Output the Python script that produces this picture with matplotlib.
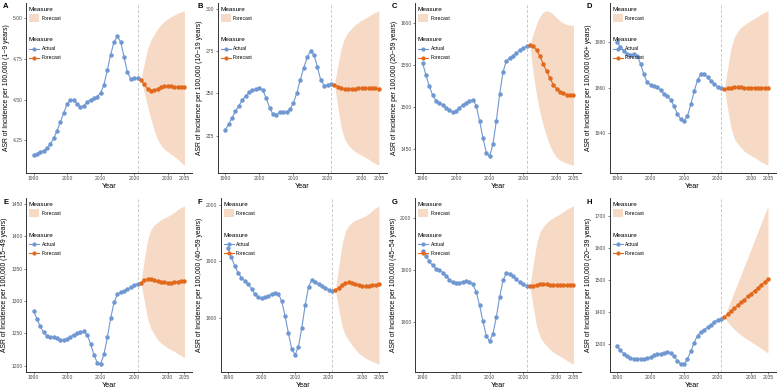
import matplotlib
matplotlib.use("Agg")
import matplotlib.pyplot as plt
from matplotlib.patches import Patch
from matplotlib.lines import Line2D

plt.rcParams['font.family'] = ['Liberation Sans', 'DejaVu Sans']

years_actual = list(range(1990, 2022))
years_fc = list(range(2022, 2036))

# ---- A: 1~9 years
a_actual = [4.157, 4.167, 4.177, 4.187, 4.204, 4.228, 4.262, 4.309, 4.363, 4.419,
            4.470, 4.500, 4.496, 4.474, 4.456, 4.462, 4.486, 4.500, 4.508, 4.518,
            4.540, 4.591, 4.681, 4.776, 4.853, 4.889, 4.853, 4.760, 4.667, 4.625,
            4.631, 4.633]
a_fc = [4.619, 4.595, 4.565, 4.555, 4.557, 4.567, 4.577, 4.581, 4.583, 4.581,
        4.579, 4.577, 4.575, 4.575]
a_hi = [4.619, 4.72, 4.81, 4.865, 4.90, 4.935, 4.96, 4.98, 4.995, 5.008,
        5.02, 5.03, 5.038, 5.045]
a_lo = [4.619, 4.545, 4.46, 4.38, 4.31, 4.255, 4.22, 4.195, 4.18, 4.165,
        4.15, 4.135, 4.115, 4.097]

# ---- B: 10~19 years
b_actual = [228.5, 231.7, 235.6, 239.4, 242.7, 246.1, 248.6, 250.6, 251.8, 252.5,
            253.3, 252.2, 247.2, 241.7, 237.6, 237.4, 239.0, 239.2, 239.2, 240.7,
            244.5, 250.4, 258.1, 265.1, 271.4, 275.0, 273.0, 265.7, 257.9, 254.7,
            255.3, 255.5]
b_fc = [255.1, 254.1, 253.1, 252.7, 252.7, 252.7, 252.9, 253.0, 253.1, 253.1,
        253.1, 253.0, 253.0, 252.9]
b_hi = [255.1, 266.5, 277.0, 283.0, 286.3, 288.6, 290.6, 292.0, 293.4, 294.5,
        295.6, 297.0, 298.0, 299.0]
b_lo = [255.1, 241.8, 229.5, 222.7, 219.7, 217.3, 215.7, 214.4, 213.4, 212.2,
        211.1, 209.6, 208.5, 207.5]

# ---- C: 20~59 years
c_actual = [1552.7, 1538.0, 1525.2, 1514.3, 1507.8, 1504.6, 1503.1, 1499.2, 1496.1, 1493.8,
            1495.3, 1499.2, 1502.7, 1505.4, 1507.4, 1508.5, 1501.9, 1483.7, 1463.6, 1446.1,
            1441.5, 1456.2, 1483.7, 1515.5, 1541.9, 1555.0, 1558.9, 1561.2, 1564.3, 1567.8,
            1570.2, 1572.1]
c_fc = [1573.3, 1572.5, 1567.8, 1560.5, 1551.2, 1542.6, 1534.1, 1526.7, 1521.7, 1518.2,
        1516.3, 1514.7, 1514.0, 1514.0]
c_hi = [1573.3, 1587.0, 1599.0, 1608.0, 1613.0, 1614.5, 1613.0, 1610.0, 1606.0, 1602.5,
        1600.0, 1598.0, 1597.3, 1597.0]
c_lo = [1573.3, 1540.0, 1514.0, 1494.0, 1478.0, 1465.0, 1454.0, 1446.0, 1440.0, 1437.0,
        1435.0, 1433.3, 1432.0, 1431.0]

# ---- D: 60+ years
d_actual = [1880.0, 1877.8, 1876.1, 1874.8, 1874.5, 1874.8, 1874.0, 1870.5, 1865.9, 1862.3,
            1861.2, 1860.9, 1860.3, 1859.0, 1857.3, 1856.3, 1854.7, 1851.8, 1848.5, 1846.2,
            1845.2, 1847.6, 1852.7, 1858.4, 1863.3, 1865.9, 1865.8, 1864.6, 1863.0, 1861.6,
            1860.4, 1859.7]
d_fc = [1859.4, 1859.7, 1860.0, 1860.1, 1860.1, 1860.1, 1860.0, 1860.0, 1860.0, 1860.0,
        1860.0, 1860.0, 1860.0, 1860.0]
d_hi = [1859.4, 1868.8, 1877.5, 1882.3, 1884.7, 1886.4, 1887.6, 1888.6, 1889.5, 1890.3,
        1891.2, 1892.2, 1893.0, 1893.7]
d_lo = [1859.4, 1850.5, 1842.3, 1837.6, 1835.3, 1833.6, 1832.1, 1831.1, 1830.2, 1829.4,
        1828.5, 1827.5, 1826.7, 1826.0]

# ---- E: 15~49 years
e_actual = [1284.9, 1272.4, 1260.9, 1251.6, 1245.8, 1244.3, 1243.8, 1242.2, 1240.1, 1239.1,
            1241.2, 1244.8, 1247.9, 1250.0, 1251.6, 1253.1, 1247.9, 1233.9, 1217.2, 1204.7,
            1202.6, 1217.7, 1243.8, 1273.4, 1297.9, 1310.4, 1313.5, 1315.6, 1318.2, 1321.4,
            1324.0, 1326.6]
e_fc = [1328.6, 1331.8, 1333.3, 1333.3, 1332.3, 1330.7, 1329.7, 1329.2, 1328.6, 1328.6,
        1329.2, 1329.7, 1330.2, 1330.2]
e_hi = [1328.6, 1363.3, 1394.0, 1410.3, 1417.5, 1421.7, 1425.4, 1428.4, 1430.7, 1433.6,
        1437.2, 1441.2, 1444.6, 1446.9]
e_lo = [1328.6, 1300.8, 1273.3, 1257.3, 1248.3, 1240.7, 1235.2, 1231.2, 1227.6, 1224.6,
        1222.2, 1218.7, 1215.7, 1212.0]

# ---- F: 40~59 years
f_actual = [1923.0, 1906.9, 1892.0, 1879.4, 1871.0, 1865.1, 1859.1, 1851.4, 1841.8, 1835.8,
            1834.0, 1835.8, 1838.8, 1841.2, 1843.0, 1842.4, 1829.3, 1803.0, 1772.6, 1743.9,
            1733.7, 1748.7, 1782.1, 1822.0, 1854.9, 1866.8, 1863.8, 1859.1, 1855.5, 1851.9,
            1849.6, 1847.2]
f_fc = [1849.0, 1853.2, 1858.0, 1861.5, 1862.7, 1861.5, 1859.1, 1857.3, 1856.1, 1855.5,
        1856.1, 1857.3, 1858.5, 1859.1]
f_hi = [1849.0, 1890.7, 1930.0, 1953.5, 1963.7, 1969.5, 1973.0, 1975.3, 1977.7, 1980.5,
        1984.7, 1990.0, 1994.5, 1998.2]
f_lo = [1849.0, 1815.2, 1784.4, 1768.1, 1759.4, 1751.1, 1743.1, 1737.0, 1732.3, 1728.1,
        1725.1, 1722.3, 1719.8, 1717.6]

# ---- G: 45~54 years
g_actual = [1935.5, 1927.1, 1916.1, 1908.4, 1902.6, 1899.4, 1894.8, 1888.4, 1881.3, 1876.1,
            1874.8, 1875.5, 1877.4, 1878.1, 1876.8, 1872.3, 1858.1, 1832.3, 1801.3, 1774.2,
            1763.3, 1777.4, 1809.7, 1848.4, 1880.0, 1894.2, 1892.9, 1887.7, 1881.9, 1876.1,
            1872.3, 1869.7]
g_fc = [1868.4, 1869.7, 1871.0, 1872.3, 1872.3, 1872.3, 1871.6, 1871.0, 1871.0, 1871.0,
        1871.0, 1871.0, 1871.0, 1871.0]
g_hi = [1868.4, 1910.7, 1949.8, 1972.3, 1983.0, 1990.3, 1995.9, 2000.0, 2003.7, 2007.4,
        2011.2, 2015.8, 2019.6, 2022.6]
g_lo = [1868.4, 1828.7, 1792.2, 1772.3, 1761.6, 1754.3, 1747.3, 1742.0, 1738.3, 1734.6,
        1730.8, 1726.2, 1722.4, 1719.4]

# ---- H: 20~39 years
h_actual = [1291.7, 1279.1, 1268.6, 1260.3, 1255.0, 1253.0, 1253.0, 1253.0, 1253.0, 1254.0,
            1258.2, 1263.4, 1266.6, 1268.6, 1270.7, 1273.9, 1271.8, 1261.3, 1246.7, 1237.3,
            1236.2, 1253.0, 1276.0, 1303.3, 1325.3, 1336.8, 1344.1, 1351.4, 1359.8, 1368.2,
            1374.5, 1378.6]
h_fc = [1383.8, 1393.0, 1402.0, 1411.0, 1420.0, 1429.0, 1438.0, 1448.0, 1457.0, 1466.0,
        1475.0, 1484.0, 1493.0, 1502.0]
h_hi = [1383.8, 1410.0, 1437.0, 1464.0, 1490.0, 1517.0, 1544.0, 1570.0, 1597.0, 1624.0,
        1651.0, 1677.0, 1704.0, 1731.0]
h_lo = [1383.8, 1368.0, 1355.0, 1344.0, 1335.0, 1327.0, 1319.0, 1312.0, 1306.0, 1299.0,
        1292.0, 1285.0, 1278.0, 1271.0]

panels = [
    ("A", "1~9 years", a_actual, a_fc, a_lo, a_hi, [4.25, 4.50, 4.75, 5.00], "{:.2f}"),
    ("B", "10~19 years", b_actual, b_fc, b_lo, b_hi, [225, 250, 275, 300], "{:.0f}"),
    ("C", "20~59 years", c_actual, c_fc, c_lo, c_hi, [1450, 1500, 1550, 1600], "{:.0f}"),
    ("D", "60+ years", d_actual, d_fc, d_lo, d_hi, [1840, 1860, 1880], "{:.0f}"),
    ("E", "15~49 years", e_actual, e_fc, e_lo, e_hi, [1200, 1250, 1300, 1350, 1400, 1450], "{:.0f}"),
    ("F", "40~59 years", f_actual, f_fc, f_lo, f_hi, [1800, 1900, 2000], "{:.0f}"),
    ("G", "45~54 years", g_actual, g_fc, g_lo, g_hi, [1800, 1900, 2000], "{:.0f}"),
    ("H", "20~39 years", h_actual, h_fc, h_lo, h_hi, [1300, 1400, 1500, 1600, 1700], "{:.0f}"),
]

blue = "#6F98D2"
orange = "#E2691B"
band = "#F6DAC5"

W, H = 778, 390
fig = plt.figure(figsize=(W / 100, H / 100), dpi=100)

for i, (letter, age, act, fc, lo, hi, yt, fmt) in enumerate(panels):
    row, col = divmod(i, 4)
    left = col * 194.5 + (23 if letter == "B" else 26)
    right = col * 194.5 + 192
    top = 3 if row == 0 else 198
    bottom = 173 if row == 0 else 372
    ax = fig.add_axes([left / W, 1 - bottom / H, (right - left) / W, (bottom - top) / H])

    ax.fill_between(years_fc, lo, hi, color=band, lw=0, zorder=1)
    ax.axvline(2021, color="#C8C8C8", lw=0.7, ls=(0, (3, 2)), zorder=2)
    ax.plot(years_actual, act, color=blue, lw=0.8, marker="o", ms=2.2, zorder=3)
    ax.plot(years_fc, fc, color=orange, lw=0.8, marker="o", ms=2.2, zorder=3)

    ax.set_xlim(1987.75, 2037.25)
    ax.margins(y=0.05)
    ax.set_xticks([1990, 2000, 2010, 2020, 2030, 2035])
    ax.set_yticks(yt)
    ax.set_yticklabels([fmt.format(v) for v in yt])
    ax.tick_params(labelsize=3.6, length=1.5, width=0.5, pad=1, colors="#4D4D4D")
    for s in ("top", "right"):
        ax.spines[s].set_visible(False)
    for s in ("left", "bottom"):
        ax.spines[s].set_linewidth(0.7)
        ax.spines[s].set_color("#333333")

    ax.set_xlabel("Year", fontsize=5.2, labelpad=1)
    ax.set_ylabel(f"ASR of Incidence per 100,000 ({age})", fontsize=4.9, labelpad=2)

    leg1 = ax.legend(handles=[Patch(facecolor=band, edgecolor="none")], labels=["Forecast"],
                     title="Measure", loc="upper left", bbox_to_anchor=(0.0, 0.995),
                     frameon=False, fontsize=3.6, title_fontsize=4.6, handlelength=2.0,
                     handleheight=2.0, handletextpad=0.5, alignment="left", borderaxespad=0.2)
    ax.add_artist(leg1)
    handles = [Line2D([], [], color=blue, lw=0.8, marker="o", ms=2.0),
               Line2D([], [], color=orange, lw=0.8, marker="o", ms=2.0)]
    ax.legend(handles=handles, labels=["Actual", "Forecast"], title="Measure",
              loc="upper left", bbox_to_anchor=(0.0, 0.815), frameon=False, fontsize=3.6,
              title_fontsize=4.6, handlelength=2.0, handletextpad=0.5, labelspacing=0.8,
              alignment="left", borderaxespad=0.2)

    fig.text((col * 194.5 + 3) / W, 1 - (top + 4) / H, letter, fontsize=5.5,
             fontweight="bold", va="center", ha="left")

fig.savefig("out.png", dpi=100)
